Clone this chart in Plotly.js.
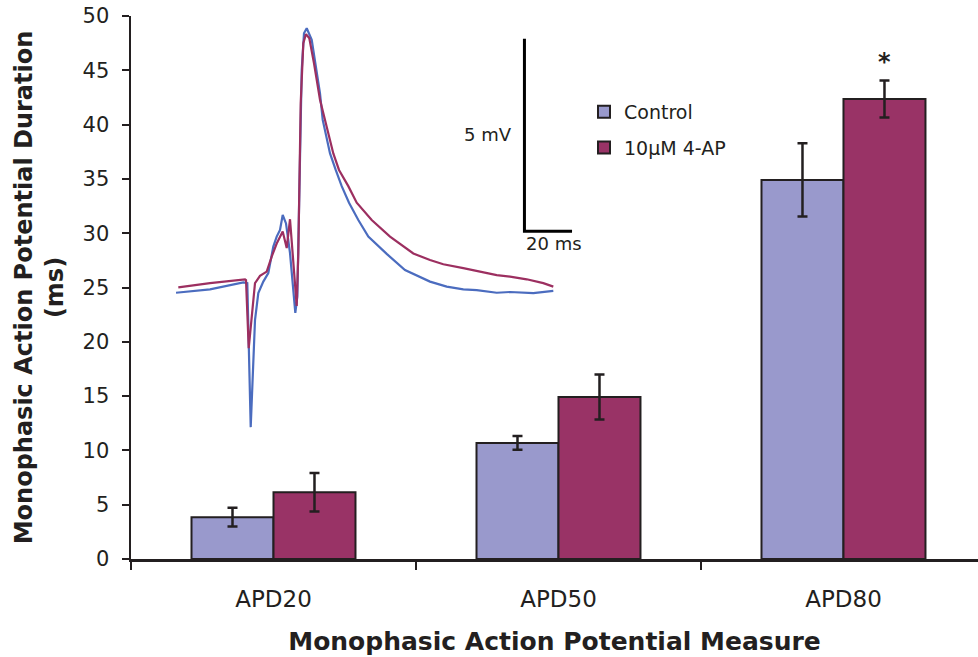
<!DOCTYPE html>
<html>
<head>
<meta charset="utf-8">
<script src="https://cdn.plot.ly/plotly-3.0.1.min.js"></script>
<style>html,body{margin:0;padding:0;background:#fff;}#chart{width:978px;height:657px;}</style>
</head>
<body>
<div id="chart"></div>
<script>
// Bar chart data (ms)
var categories = ['APD20', 'APD50', 'APD80'];
var controlMean = [3.85, 10.69, 34.91];
var controlErr = [0.86, 0.64, 3.38];
var apMean = [6.15, 14.92, 42.36];
var apErr = [1.78, 2.07, 1.70];
var seriesNames = ['Control', '10\u00b5M 4-AP'];

// Inset monophasic action potential traces (time in ms, voltage in mV, relative to baseline)
var ctrlTime = [0, 14.29, 28.28, 29.96, 31.39, 33.19, 34.58, 36.68, 38.78, 40.88, 42.31, 43.70, 44.83, 46.22, 47.90, 49.29, 50.13, 50.97, 52.10, 52.82, 53.78, 54.92, 57.02, 59.12, 60.50, 61.64, 64.71, 67.10, 69.62, 72.69, 76.60, 80.80, 88.53, 96.22, 106.72, 113.74, 120.71, 126.34, 134.75, 140.34, 147.35, 150.13, 158.53];
var ctrlVolt = [-0.02, 0.07, 0.25, 0.23, -3.51, -0.73, -0.03, 0.27, 0.49, 1.18, 1.44, 1.61, 2.00, 1.78, 1.01, -0.03, -0.54, -0.12, 3.60, 5.77, 6.72, 6.85, 6.55, 5.77, 5.16, 4.47, 3.60, 3.17, 2.75, 2.32, 1.87, 1.44, 0.99, 0.57, 0.27, 0.14, 0.07, 0.05, -0.02, 0.00, -0.03, -0.03, 0.03];
var apTime = [0.97, 14.29, 28.99, 29.41, 30.55, 31.81, 33.19, 35.29, 38.11, 40.21, 42.31, 44.83, 46.51, 47.90, 49.03, 50.71, 51.39, 52.39, 53.49, 54.62, 56.01, 57.98, 60.50, 62.61, 66.09, 68.49, 72.39, 75.92, 82.23, 89.92, 99.71, 106.72, 112.31, 120.71, 126.34, 134.75, 140.34, 147.35, 154.33, 158.53];
var apVolt = [0.12, 0.23, 0.33, 0.31, -1.46, -0.55, 0.23, 0.42, 0.53, 0.92, 1.26, 1.57, 1.14, 1.89, 1.01, -0.36, 1.01, 4.90, 6.46, 6.70, 6.59, 5.94, 4.99, 4.47, 3.60, 3.17, 2.75, 2.32, 1.87, 1.44, 1.00, 0.83, 0.72, 0.62, 0.55, 0.44, 0.40, 0.33, 0.23, 0.14];

// Scale bar: 5 mV vertical, 20 ms horizontal
var scaleTime = [146.4, 146.4, 166.4];
var scaleVolt = [6.58, 1.58, 1.58];

var ink = '#231f20';
var font = 'DejaVu Sans, Verdana, sans-serif';

var traces = [
  {
    type: 'bar', name: seriesNames[0], x: categories, y: controlMean,
    legendgroup: 'a',
    marker: {color: '#9999cc', line: {color: ink, width: 2}},
    error_y: {type: 'data', array: controlErr, visible: true, color: ink, thickness: 2.5, width: 5}
  },
  {
    type: 'bar', name: seriesNames[1], x: categories, y: apMean,
    legendgroup: 'b',
    marker: {color: '#993366', line: {color: ink, width: 2}},
    error_y: {type: 'data', array: apErr, visible: true, color: ink, thickness: 2.5, width: 5}
  },
  {
    type: 'scatter', mode: 'lines', x: ctrlTime, y: ctrlVolt, xaxis: 'x2', yaxis: 'y2',
    line: {color: '#4b6cbf', width: 2.2}, showlegend: false, hoverinfo: 'skip'
  },
  {
    type: 'scatter', mode: 'lines', x: apTime, y: apVolt, xaxis: 'x2', yaxis: 'y2',
    line: {color: '#9c2f60', width: 2.2}, showlegend: false, hoverinfo: 'skip'
  },
  {
    type: 'scatter', mode: 'lines', x: scaleTime, y: scaleVolt, xaxis: 'x2', yaxis: 'y2',
    line: {color: '#000000', width: 3}, showlegend: false, hoverinfo: 'skip'
  }
];

var layout = {
  width: 978, height: 657,
  margin: {l: 131, r: 0, t: 16, b: 98},
  paper_bgcolor: '#ffffff', plot_bgcolor: '#ffffff',
  barmode: 'group', bargap: 0.4246, bargroupgap: 0,
  showlegend: true,
  font: {family: font, color: ink},
  legend: {
    x: (584 - 131) / 847, y: 1 - (93 - 16) / 543, xanchor: 'left', yanchor: 'top',
    font: {size: 19, family: font, color: ink},
    bgcolor: 'rgba(0,0,0,0)', traceorder: 'grouped', tracegroupgap: 8
  },
  xaxis: {
    type: 'category', range: [-0.5, 2.472],
    showline: true, linecolor: ink, linewidth: 2.5,
    ticks: 'outside', tickson: 'boundaries', ticklen: 8, tickwidth: 2.5, tickcolor: ink,
    tickfont: {size: 23, family: font, color: ink}, ticklabelstandoff: 18,
    showgrid: false, zeroline: false, fixedrange: true,
    title: {text: 'Monophasic Action Potential Measure', font: {size: 25, family: font, color: ink, weight: 'bold'}, standoff: 22}
  },
  yaxis: {
    range: [0, 50], dtick: 5,
    showline: true, linecolor: ink, linewidth: 2.5,
    ticks: 'outside', ticklen: 7, tickwidth: 2, tickcolor: ink,
    tickfont: {size: 21, family: font, color: ink}, ticklabelstandoff: 8,
    showgrid: false, zeroline: false, fixedrange: true,
    title: {text: 'Monophasic Action Potential Duration<br>(ms)', font: {size: 24, family: font, color: ink, weight: 'bold'}, standoff: 12}
  },
  xaxis2: {
    overlaying: 'x', anchor: 'y2', range: [-18.91, 336.97], visible: false, fixedrange: true
  },
  yaxis2: {
    overlaying: 'y', anchor: 'x2', range: [-6.935, 7.169], visible: false, fixedrange: true
  },
  annotations: [
    {x: 'APD80', xref: 'x', xshift: 41, y: 45.8, yref: 'y', text: '*', showarrow: false,
     font: {size: 24, family: font, color: ink, weight: 'bold'}},
    {x: 145.5, xref: 'x2', y: 4.08, yref: 'y2', text: '5 mV', showarrow: false, xanchor: 'right',
     xshift: -8, font: {size: 18, family: font, color: ink}},
    {x: 146.4, xref: 'x2', y: 1.58, yref: 'y2', text: '20 ms', showarrow: false, xanchor: 'left', yanchor: 'top',
     yshift: 0, font: {size: 18, family: font, color: ink}}
  ]
};

Plotly.newPlot('chart', traces, layout, {displayModeBar: false, staticPlot: true});
</script>
</body>
</html>
